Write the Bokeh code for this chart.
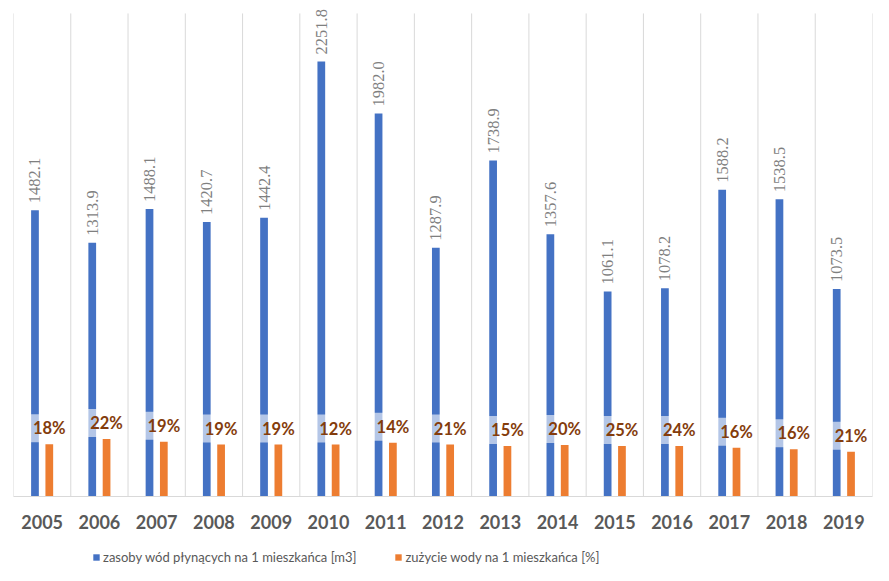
import math
from bokeh.plotting import figure
from bokeh.layouts import column
from bokeh.models import (ColumnDataSource, FactorRange, Range1d, LabelSet, Legend, LegendItem)
from bokeh.core.properties import value
from bokeh.transform import dodge
from bokeh.embed import file_html
from bokeh.resources import INLINE

years = ["2005", "2006", "2007", "2008", "2009", "2010", "2011", "2012",
         "2013", "2014", "2015", "2016", "2017", "2018", "2019"]
resources_m3 = [1482.1, 1313.9, 1488.1, 1420.7, 1442.4, 2251.8, 1982.0, 1287.9,
                1738.9, 1357.6, 1061.1, 1078.2, 1588.2, 1538.5, 1073.5]
usage_m3 = [271, 297, 283, 269, 269, 269, 278, 269,
            262, 266, 262, 262, 252, 245, 231]
usage_pct = [18, 22, 19, 19, 19, 12, 14, 21, 15, 20, 25, 24, 16, 16, 21]
series_names = ["zasoby wód płynących na 1 mieszkańca [m3]",
                "zużycie wody na 1 mieszkańca [%]"]
grid_top = 2500

FONT = "Lato"
BLUE = "#4472C4"
ORANGE = "#ED7D31"

src = ColumnDataSource(dict(
    year=years,
    res=resources_m3,
    use=usage_m3,
    res_lbl=[f"{v:.1f}" for v in resources_m3],
    pct_lbl=[f"{v}%" for v in usage_pct],
    y0=[0] * len(years),
    y1=[grid_top] * len(years),
))
edge = ColumnDataSource(dict(year=[years[-1]], y0=[0], y1=[grid_top]))

p = figure(width=873, height=535, x_range=FactorRange(*years),
           y_range=Range1d(0, 2567), y_axis_location=None,
           output_backend="svg", toolbar_location=None,
           min_border_left=13, min_border_right=1, min_border_top=0,
           min_border_bottom=39)
p.outline_line_color = None
p.xgrid.visible = False
p.ygrid.visible = False

# category boundary lines
p.segment(x0=dodge("year", -0.5, range=p.x_range), y0="y0",
          x1=dodge("year", -0.5, range=p.x_range), y1="y1",
          source=src, line_color="#d9d9d9", line_width=1)
p.segment(x0=dodge("year", 0.5, range=p.x_range), y0="y0",
          x1=dodge("year", 0.5, range=p.x_range), y1="y1",
          source=edge, line_color="#d9d9d9", line_width=1)

rb = p.vbar(x=dodge("year", -0.125, range=p.x_range), top="res", width=0.135,
            source=src, fill_color=BLUE, line_color=None)
ro = p.vbar(x=dodge("year", 0.125, range=p.x_range), top="use", width=0.135,
            source=src, fill_color=ORANGE, line_color=None)

blue_lbl = LabelSet(x=dodge("year", -0.125, range=p.x_range), y="res", text="res_lbl",
                    source=src, angle=math.pi / 2, text_align="left",
                    text_baseline="middle", y_offset=7,
                    text_font=FONT, text_font_size="16.5px", text_color="#7f7f7f")
p.add_layout(blue_lbl)

p.text(x=dodge("year", 0.125, range=p.x_range), y="use", text="pct_lbl",
       source=src, text_align="center", text_baseline="middle",
       y_offset=-16, text_font=value(FONT), text_font_size="16.5px",
       text_font_style="bold", text_color="#843C0C",
       background_fill_color="white", background_fill_alpha=0.6,
       padding=4)

ax = p.xaxis[0]
ax.axis_line_color = "#d9d9d9"
ax.major_tick_line_color = None
ax.minor_tick_line_color = None
ax.major_label_text_font = FONT
ax.major_label_text_font_size = "18px"
ax.major_label_text_font_style = "bold"
ax.major_label_text_color = "#595959"
ax.major_label_standoff = 12

# legend holder (its swatch renderers have zero height, so only the legend shows)
lf = figure(width=873, height=30, x_range=Range1d(0, 1), y_range=Range1d(0, 1),
            x_axis_location=None, y_axis_location=None,
            output_backend="svg", toolbar_location=None,
            min_border=0)
lf.outline_line_color = None
lf.xgrid.visible = False
lf.ygrid.visible = False
swatch = ColumnDataSource(dict(x=[0.5], top=[0]))
lb = lf.vbar(x="x", top="top", width=0.0, source=swatch, fill_color=BLUE, line_color=None)
lo = lf.vbar(x="x", top="top", width=0.0, source=swatch, fill_color=ORANGE, line_color=None)

legend = Legend(items=[LegendItem(label=series_names[0], renderers=[lb]),
                       LegendItem(label=series_names[1], renderers=[lo])],
                orientation="horizontal", location=(79, 0),
                border_line_color=None, background_fill_alpha=0,
                glyph_width=8, glyph_height=8, label_standoff=3, spacing=38,
                padding=0, margin=0,
                label_text_font=FONT, label_text_font_size="13px",
                label_text_color="#595959")
lf.add_layout(legend)

layout = column(p, lf, spacing=0)
open("out.html", "w").write(file_html(layout, INLINE))
